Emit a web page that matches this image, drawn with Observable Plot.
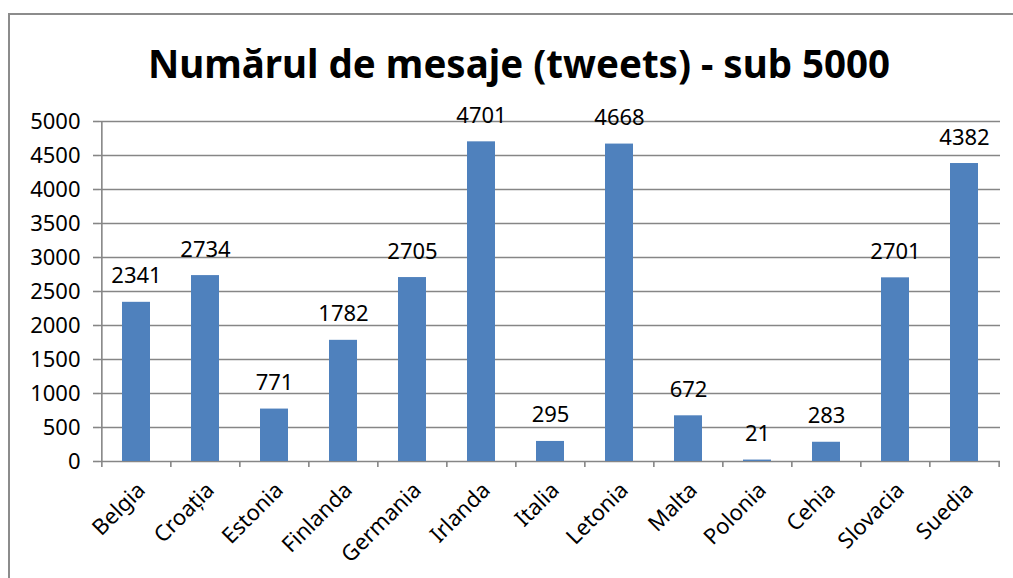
<!DOCTYPE html>
<html>
<head>
<meta charset="utf-8">
<script src="https://cdn.jsdelivr.net/npm/d3@7"></script>
<script src="https://cdn.jsdelivr.net/npm/@observablehq/plot@0.6"></script>
<style>
  html, body { margin: 0; padding: 0; background: #fff; }
  #wrap { position: relative; width: 1013px; height: 578px; overflow: hidden; }
  #frame { position: absolute; left: 8px; top: 13px; width: 1100px; height: 700px; border: 2px solid #8c8c8c; box-sizing: border-box; }
  #chart { position: absolute; left: 0; top: 0; }
</style>
</head>
<body>
<div id="wrap"><div id="frame"></div><div id="chart"></div></div>
<script>
const title = "Numărul de mesaje (tweets) - sub 5000";
const countries = ["Belgia", "Croația", "Estonia", "Finlanda", "Germania", "Irlanda", "Italia", "Letonia", "Malta", "Polonia", "Cehia", "Slovacia", "Suedia"];
const tweets = [2341, 2734, 771, 1782, 2705, 4701, 295, 4668, 672, 21, 283, 2701, 4382];
const yTicks = [0, 500, 1000, 1500, 2000, 2500, 3000, 3500, 4000, 4500, 5000];

const data = countries.map((c, i) => ({country: c, value: tweets[i]}));

const W = 1013, H = 578;
const mL = 99, mR = 13, mT = 121, mB = 117;
const step = (W - mL - mR) / countries.length;
const font = "'Noto Sans', 'Open Sans', sans-serif";

const chart = Plot.plot({
  width: W,
  height: H,
  marginLeft: mL,
  marginRight: mR,
  marginTop: mT,
  marginBottom: mB,
  style: {fontFamily: font, fontSize: "22px", color: "#000", background: "transparent"},
  x: {domain: countries, paddingInner: 0.6, paddingOuter: 0.3, label: null},
  y: {domain: [0, 5000], label: null},
  marks: [
    Plot.ruleY(yTicks, {y: d => d, stroke: "#868686", strokeWidth: 1.6, strokeOpacity: 1}),
    Plot.ruleX([0], {x: () => countries[0], y1: 0, y2: 5000, dx: -step / 2, stroke: "#868686", strokeWidth: 1.6}),
    Plot.ruleX(countries, {x: d => d, y1: 0, y2: -90, dx: -step / 2, stroke: "#868686", strokeWidth: 1.6}),
    Plot.ruleX([countries[countries.length - 1]], {x: d => d, y1: 0, y2: -90, dx: step / 2, stroke: "#868686", strokeWidth: 1.6}),
    Plot.axisY({ticks: yTicks, tickSize: 6, tickPadding: 13, tickFormat: d => String(d), stroke: "#868686", strokeWidth: 1.6, fill: "#000", fontSize: 22}),
    Plot.axisX({tickSize: 0, tickRotate: -45, tickPadding: 25, dx: 5, fill: "#000", fontSize: 22}),
    Plot.barY(data, {x: "country", y: "value", fill: "#4f81bd"}),
    Plot.text(data, {x: "country", y: "value", text: d => String(d.value), lineAnchor: "bottom", dy: -19, fill: "#000", fontSize: 22}),
    Plot.text([title], {frameAnchor: "top", text: d => d, lineAnchor: "bottom", dy: -44, dx: -31, fontSize: 38.5, fontWeight: "bold", fill: "#000"})
  ]
});
document.getElementById("chart").appendChild(chart);
</script>
</body>
</html>
